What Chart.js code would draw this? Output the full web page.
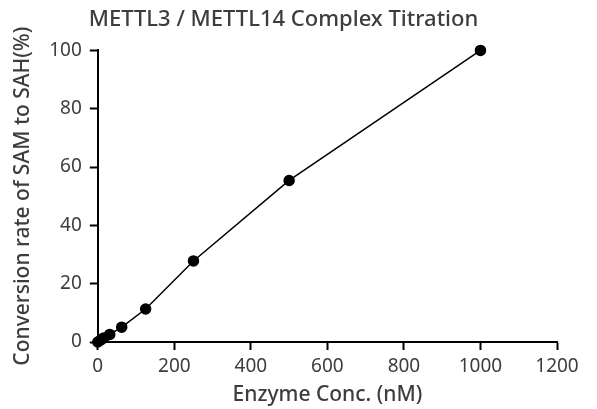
<!DOCTYPE html>
<html lang="en">
<head>
  <meta charset="UTF-8">
  <script src="https://cdn.jsdelivr.net/npm/chart.js"></script>
  <title>METTL3 / METTL14 Complex Titration</title>
  <style>
    body {
      margin: 0;
      padding: 0;
      background: #fff;
      overflow: hidden;
    }
    .chart-box {
      width: 597px;
      height: 409px;
    }
  </style>
</head>
<body>
  <div class="chart-box">
    <canvas id="titrationChart" width="597" height="409"></canvas>
  </div>

  <script>
    // enzyme concentrations (nM) and conversion (%)
    const enzymeConc = [0, 7.8, 15.6, 31.25, 62.5, 125, 250, 500, 1000];
    const conversion = [0, 0.7, 1.4, 2.6, 5.1, 11.3, 27.8, 55.4, 100];
    const xTicks = [0, 200, 400, 600, 800, 1000, 1200];
    const yTicks = [0, 20, 40, 60, 80, 100];

    const textColor = '#3d3d3d';
    const fontFamily = "'Noto Sans', 'Open Sans', sans-serif";

    const points = enzymeConc.map((x, i) => ({ x: x, y: conversion[i] }));

    const ctx = document.getElementById('titrationChart').getContext('2d');
    new Chart(ctx, {
      type: 'scatter',
      data: {
        datasets: [{
          data: points,
          showLine: true,
          tension: 0,
          borderColor: '#000',
          borderWidth: 1.5,
          pointRadius: 5,
          pointBackgroundColor: '#000',
          pointBorderColor: '#000',
          clip: false
        }]
      },
      options: {
        responsive: false,
        animation: false,
        layout: { padding: { top: 0, right: 40, bottom: 1, left: 10 } },
        plugins: {
          legend: { display: false },
          tooltip: { enabled: false },
          title: {
            display: true,
            text: 'METTL3 / METTL14 Complex Titration',
            color: textColor,
            font: { family: fontFamily, size: 22, weight: '500' },
            padding: { top: 7, bottom: 17 }
          }
        },
        scales: {
          x: {
            type: 'linear',
            min: 0,
            max: 1200,
            afterBuildTicks: axis => { axis.ticks = xTicks.map(v => ({ value: v })); },
            grid: {
              drawOnChartArea: false,
              drawTicks: true,
              tickLength: 8,
              tickWidth: 2,
              tickColor: '#000'
            },
            border: { display: true, color: '#000', width: 2 },
            ticks: {
              color: textColor,
              font: { family: fontFamily, size: 19 },
              padding: 5,
              maxRotation: 0,
              callback: v => String(v)
            },
            title: {
              display: true,
              text: 'Enzyme Conc. (nM)',
              color: textColor,
              font: { family: fontFamily, size: 21, weight: '500' },
              padding: { top: 0, bottom: 0 }
            }
          },
          y: {
            type: 'linear',
            min: 0,
            max: 100,
            afterBuildTicks: axis => { axis.ticks = yTicks.map(v => ({ value: v })); },
            grid: {
              drawOnChartArea: false,
              drawTicks: true,
              tickLength: 8,
              tickWidth: 2,
              tickColor: '#000'
            },
            border: { display: true, color: '#000', width: 2 },
            ticks: {
              color: textColor,
              font: { family: fontFamily, size: 19 },
              padding: 8,
              callback: v => String(v)
            },
            title: {
              display: true,
              text: 'Conversion rate of SAM to SAH(%)',
              color: textColor,
              font: { family: fontFamily, size: 21, weight: '500' },
              padding: { top: 0, bottom: 6 }
            }
          }
        }
      }
    });
  </script>
</body>
</html>
